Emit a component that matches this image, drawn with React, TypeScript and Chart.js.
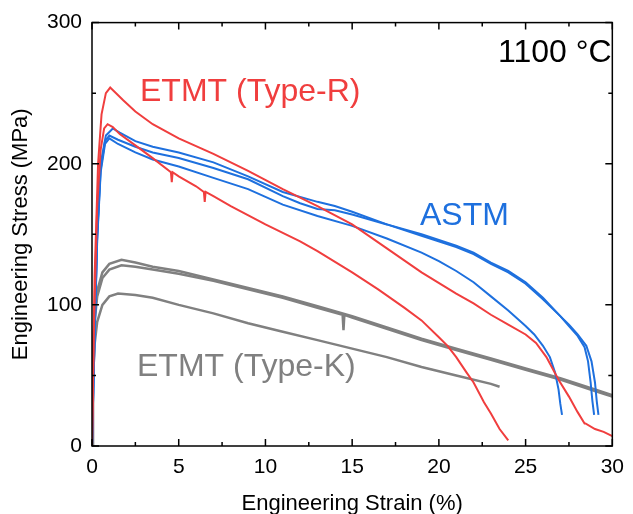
import { useEffect, useRef } from "react";
import { Chart, registerables } from "chart.js";

Chart.register(...registerables);

const FONT = '"Liberation Sans", Arial, Helvetica, sans-serif';
const RED = "rgb(240,62,62)";
const BLUE = "rgb(30,112,222)";
const GRAY = "rgb(128,128,128)";

// Axis ticks
const xTickValues = [0, 5, 10, 15, 20, 25, 30];
const yTickValues = [0, 100, 200, 300];

// ETMT (Type-R) specimens
const r1Strain = [0, 0.15, 0.35, 0.55, 0.8, 1.05, 1.3, 1.8, 2.5, 3.5, 5, 7, 9, 11, 13, 15, 17, 19, 21, 22, 23, 24, 25, 25.6, 26.2, 26.9, 27.5, 28, 28.4, 28.45, 29, 29.5, 30];
const r1Stress = [0, 120, 200, 235, 250, 254, 251, 245, 237, 228, 218, 207, 195, 182, 170, 157, 140, 123, 108, 101, 93, 86, 79, 73, 63, 47, 35, 24, 16, 16, 12, 10, 7];
const r2Strain = [0, 0.1, 0.3, 0.5, 0.7, 0.9, 1.2, 1.6, 2.5, 3.5, 4.55, 4.6, 4.65, 5, 6, 6.45, 6.5, 6.55, 7, 8, 10, 12, 13, 15, 16.5, 18, 19, 20, 20.5, 21, 21.6, 22, 22.6, 23, 23.5, 24];
const r2Stress = [0, 80, 170, 210, 225, 228, 226, 221, 213, 204, 194, 187, 194, 191, 184, 180, 173, 180, 177, 170, 157, 145, 138, 123, 111, 98, 89, 77, 71, 63, 52, 45, 31, 23, 12, 4];

// ASTM specimens
const b1Strain = [0, 0.15, 0.3, 0.5, 0.8, 1.2, 1.6, 2.5, 3.5, 5, 7, 9, 11, 13, 14, 15, 17, 19, 21, 22, 23, 24, 25, 26, 27, 27.5, 28, 28.5, 28.8, 29, 29.1, 29.2];
const b1Stress = [0, 80, 150, 200, 220, 225, 222, 216, 212, 208, 201, 191, 180, 173, 170, 166, 157, 150, 142, 137, 130, 124, 116, 105, 92, 86, 79, 71, 60, 45, 32, 22];
const b2Strain = [0, 0.15, 0.3, 0.5, 0.75, 1.0, 1.5, 2.5, 3.5, 5, 7, 9, 11, 12, 13, 14, 15, 17, 19, 21, 22, 23, 24, 25, 26, 27, 27.5, 28, 28.4, 28.6, 28.75, 28.85, 28.95];
const b2Stress = [0, 78, 148, 196, 216, 220, 217, 212, 208, 204, 197, 189, 177, 172, 168, 167, 164, 157, 149, 141, 136, 129, 123, 115, 104, 92, 85, 78, 70, 60, 45, 32, 22];
const b3Strain = [0, 0.15, 0.3, 0.5, 0.75, 1.0, 1.5, 2.5, 3.5, 5, 7, 9, 11, 13, 15, 17, 19, 20, 21, 22, 23, 24, 25, 25.5, 26, 26.4, 26.7, 26.9, 27.0, 27.1];
const b3Stress = [0, 76, 146, 194, 214, 218, 214, 208, 203, 198, 190, 182, 171, 163, 156, 147, 137, 131, 124, 116, 106, 96, 85, 79, 71, 63, 52, 40, 30, 22];

// ETMT (Type-K) specimens
const k1Strain = [0, 0.05, 0.15, 0.3, 0.6, 1.0, 1.7, 2.5, 3.5, 5, 7, 9, 11, 13, 15, 17, 19, 21, 23, 25, 27, 29, 30];
const k1Stress = [0, 60, 92, 110, 123, 129, 132, 130, 127, 124, 118, 112, 106, 99, 92, 84, 76, 69, 62, 55, 48, 40, 36];
const k2Strain = [0, 0.05, 0.15, 0.3, 0.6, 1.0, 1.7, 2.5, 3.5, 5, 7, 9, 11, 13, 14.45, 14.5, 14.55, 15, 17, 19, 21, 23, 25, 27, 29, 30];
const k2Stress = [0, 55, 88, 106, 119, 125, 128, 127, 125, 122, 117, 111, 105, 98, 93, 82, 93, 91, 83, 75, 68, 61, 54, 47, 39, 35];
const k3Strain = [0, 0.05, 0.15, 0.3, 0.6, 1.0, 1.5, 2.5, 3.5, 5, 7, 9, 11, 13, 15, 17, 19, 21, 23, 23.5];
const k3Stress = [0, 45, 72, 88, 100, 106, 108, 107, 105, 100, 94, 87, 81, 75, 69, 63, 56, 50, 44, 42];

const toPoints = (xs: number[], ys: number[]) => xs.map((x, i) => ({ x, y: ys[i] }));

const framePlugin = {
  id: "frameAndLabels",
  afterDatasetsDraw(chart: any) {
    const { ctx, chartArea: a, scales } = chart;
    const xs = scales.x;
    const ys = scales.y;
    ctx.save();
    ctx.strokeStyle = "#000";
    ctx.lineWidth = 1.5;
    ctx.strokeRect(a.left, a.top, a.right - a.left, a.bottom - a.top);
    ctx.beginPath();
    for (let v = 0; v <= 30.001; v += 2.5) {
      const px = xs.getPixelForValue(v);
      const len = Math.abs(v % 5) < 1e-6 ? 7 : 4;
      ctx.moveTo(px, a.bottom);
      ctx.lineTo(px, a.bottom - len);
      ctx.moveTo(px, a.top);
      ctx.lineTo(px, a.top + len);
    }
    for (let v = 0; v <= 300.001; v += 50) {
      const py = ys.getPixelForValue(v);
      const len = Math.abs(v % 100) < 1e-6 ? 7 : 4;
      ctx.moveTo(a.left, py);
      ctx.lineTo(a.left + len, py);
      ctx.moveTo(a.right, py);
      ctx.lineTo(a.right - len, py);
    }
    ctx.stroke();

    ctx.font = `32px ${FONT}`;
    ctx.textBaseline = "alphabetic";
    ctx.textAlign = "left";
    ctx.fillStyle = RED;
    ctx.fillText("ETMT (Type-R)", a.left + 48, a.top + 78);
    ctx.fillStyle = BLUE;
    ctx.fillText("ASTM", a.left + 328, a.top + 202);
    ctx.fillStyle = GRAY;
    ctx.fillText("ETMT (Type-K)", a.left + 45, a.top + 353);
    ctx.fillStyle = "#000";
    ctx.fillText("1100 °C", a.left + 406, a.top + 39);
    ctx.restore();
  },
};

export default function App() {
  const canvasRef = useRef<HTMLCanvasElement | null>(null);

  useEffect(() => {
    const canvas = canvasRef.current;
    if (!canvas) return;
    const line = (xs: number[], ys: number[], color: string, width: number) => ({
      data: toPoints(xs, ys),
      borderColor: color,
      backgroundColor: color,
      borderWidth: width,
      pointRadius: 0,
      showLine: true,
      tension: 0,
      fill: false,
    });
    const chart = new Chart(canvas, {
      type: "scatter",
      data: {
        datasets: [
          line(r1Strain, r1Stress, RED, 2),
          line(r2Strain, r2Stress, RED, 2),
          line(b1Strain, b1Stress, BLUE, 2),
          line(b2Strain, b2Stress, BLUE, 2),
          line(b3Strain, b3Stress, BLUE, 2),
          line(k1Strain, k1Stress, GRAY, 2.5),
          line(k2Strain, k2Stress, GRAY, 2.5),
          line(k3Strain, k3Stress, GRAY, 2.5),
        ] as any,
      },
      options: {
        responsive: false,
        animation: false,
        devicePixelRatio: 1,
        layout: { padding: { top: 22, right: 12, left: 0, bottom: 0 } },
        plugins: { legend: { display: false }, tooltip: { enabled: false } },
        scales: {
          x: {
            type: "linear",
            min: 0,
            max: 30,
            afterFit: (s: any) => {
              s.height = 68;
            },
            afterBuildTicks: (s: any) => {
              s.ticks = xTickValues.map((v) => ({ value: v }));
            },
            grid: { display: false, drawTicks: false },
            border: { display: false },
            ticks: {
              color: "#000",
              font: { family: FONT, size: 21 },
              padding: 9,
              maxRotation: 0,
            },
            title: {
              display: true,
              text: "Engineering Strain (%)",
              color: "#000",
              font: { family: FONT, size: 22 },
              padding: { top: 0, bottom: -3 },
            },
          },
          y: {
            type: "linear",
            min: 0,
            max: 300,
            afterFit: (s: any) => {
              s.width = 92;
            },
            afterBuildTicks: (s: any) => {
              s.ticks = yTickValues.map((v) => ({ value: v }));
            },
            grid: { display: false, drawTicks: false },
            border: { display: false },
            ticks: {
              color: "#000",
              font: { family: FONT, size: 21 },
              padding: 10,
            },
            title: {
              display: true,
              text: "Engineering Stress (MPa)",
              color: "#000",
              font: { family: FONT, size: 22 },
              padding: { top: 8, bottom: 0 },
            },
          },
        },
      },
      plugins: [framePlugin],
    });
    return () => chart.destroy();
  }, []);

  return (
    <div style={{ position: "fixed", left: 0, top: 0, width: 633, height: 514, background: "#fff" }}>
      <canvas ref={canvasRef} width={633} height={514} style={{ display: "block", width: 633, height: 514 }} />
    </div>
  );
}
